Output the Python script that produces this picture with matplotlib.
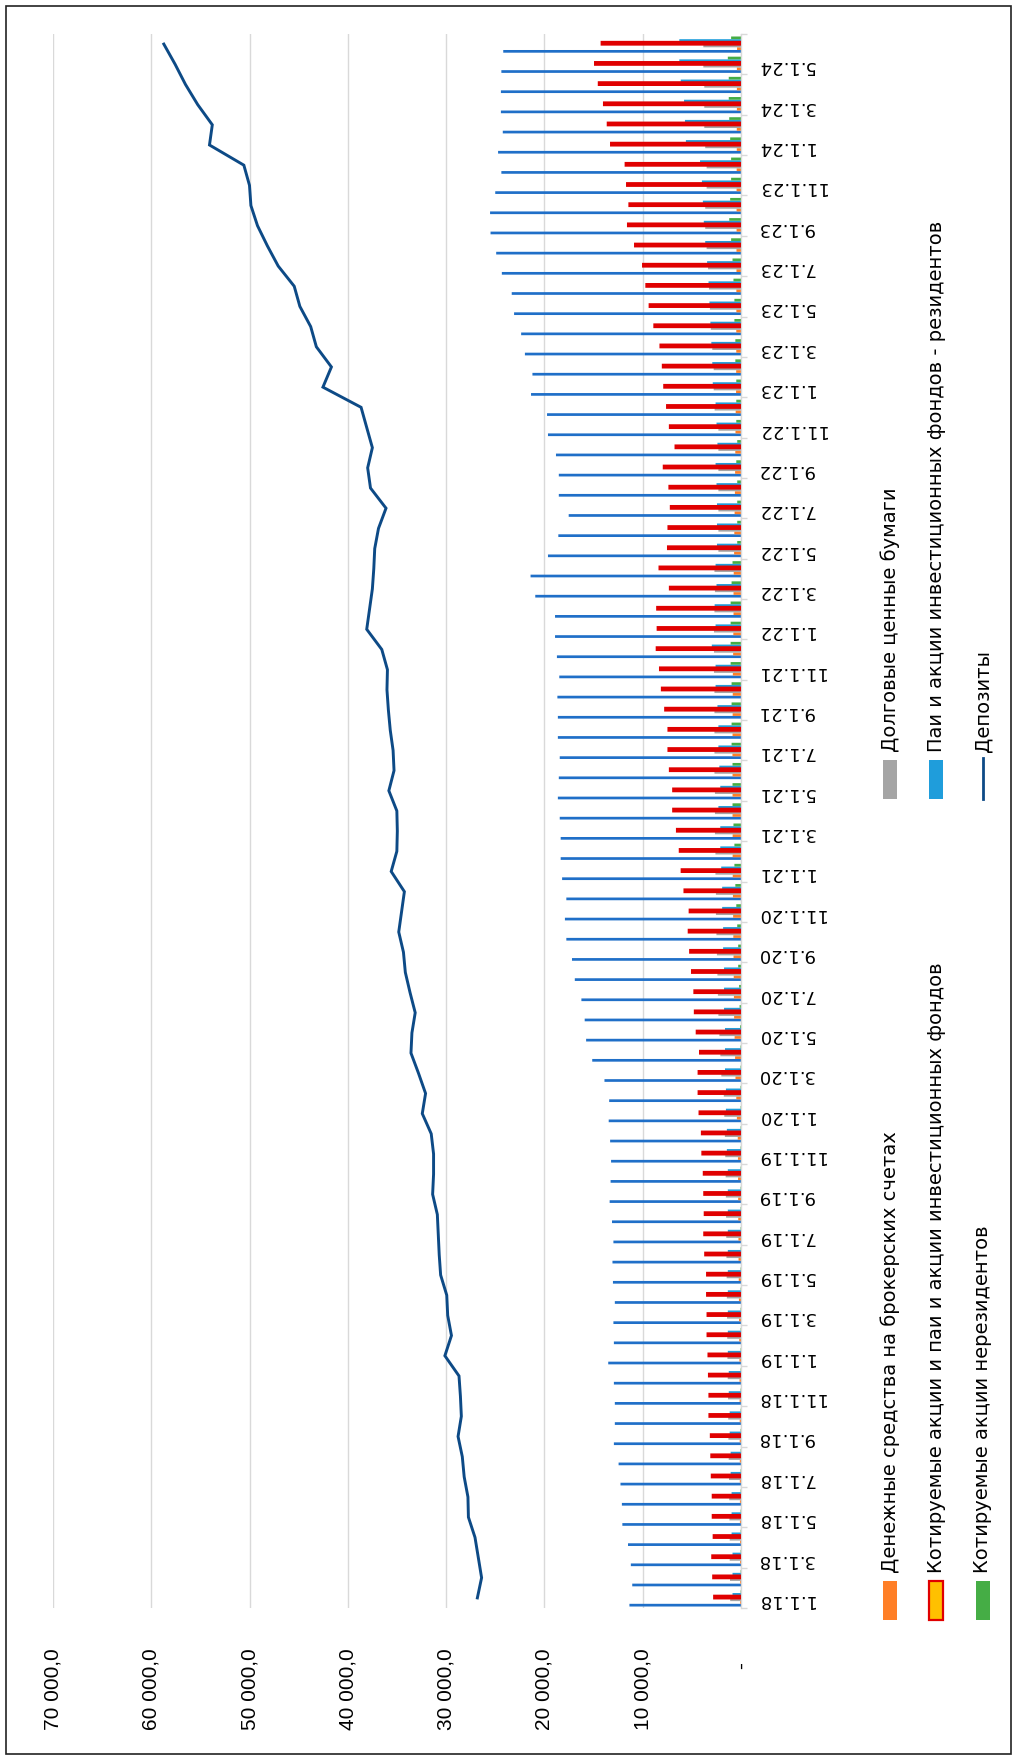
import matplotlib
matplotlib.use('Agg')
import matplotlib.pyplot as plt
import numpy as np
from matplotlib.patches import Rectangle
from matplotlib.lines import Line2D
from matplotlib.transforms import ScaledTranslation

# ---------------- data (monthly, Jan 2018 .. Jun 2024) ----------------
date_labels = ['1.1.18', '3.1.18', '5.1.18', '7.1.18', '9.1.18', '11.1.18',
               '1.1.19', '3.1.19', '5.1.19', '7.1.19', '9.1.19', '11.1.19',
               '1.1.20', '3.1.20', '5.1.20', '7.1.20', '9.1.20', '11.1.20',
               '1.1.21', '3.1.21', '5.1.21', '7.1.21', '9.1.21', '11.1.21',
               '1.1.22', '3.1.22', '5.1.22', '7.1.22', '9.1.22', '11.1.22',
               '1.1.23', '3.1.23', '5.1.23', '7.1.23', '9.1.23', '11.1.23',
               '1.1.24', '3.1.24', '5.1.24']

value_ticks = [0, 10000, 20000, 30000, 40000, 50000, 60000, 70000]
value_tick_labels = ['-', '10 000,0', '20 000,0', '30 000,0', '40 000,0',
                     '50 000,0', '60 000,0', '70 000,0']

# Денежные средства на брокерских счетах
cash = [90, 90, 100, 100, 110, 110, 120, 120, 130, 130, 140, 150,
        160, 180, 200, 210, 230, 250, 260, 280, 290, 300, 310, 330,
        420, 480, 560, 600, 650, 700, 720, 740, 760, 780, 800, 820,
        840, 850, 850, 860, 860, 860, 870, 860, 850, 840, 830, 800,
        780, 760, 760, 740, 700, 680, 650, 620, 600, 580, 560, 540,
        500, 490, 480, 480, 470, 470, 460, 460, 450, 450, 450, 440,
        430, 430, 420, 420, 420, 400]

# Котируемые акции и паи и акции инвестиционных фондов
quoted = [2730, 2826, 2922, 2778, 2874, 2874, 2970, 3018, 3066, 3209, 3209, 3257,
          3305, 3401, 3401, 3449, 3449, 3640, 3736, 3688, 3736, 3784, 3928, 3976,
          4215, 4311, 4311, 4167, 4503, 4694, 4742, 4982, 5173, 5317, 5221, 5748,
          6035, 6227, 6514, 6898, 6898, 7233, 7377, 7377, 7712, 8047, 8239, 8574,
          8478, 8526, 7233, 8287, 7425, 7377, 7137, 7281, 7856, 6658, 7233, 7520,
          7808, 7951, 8191, 8814, 9293, 9628, 9963, 10778, 11496, 11352, 11592, 11736,
          13220, 13556, 13939, 14466, 14849, 14178]

# Котируемые акции нерезидентов
nonres = [40, 40, 40, 40, 40, 40, 40, 40, 40, 40, 40, 40,
          40, 40, 40, 40, 40, 40, 40, 40, 40, 40, 40, 40,
          40, 50, 50, 50, 96, 144, 192, 287, 287, 383, 479, 575,
          671, 671, 766, 862, 862, 862, 958, 958, 958, 958, 1054, 1054,
          1054, 1054, 958, 862, 383, 383, 383, 383, 479, 383, 479, 479,
          479, 575, 575, 671, 671, 766, 862, 1006, 1198, 1102, 1006, 1006,
          1102, 1198, 1245, 1245, 1341, 1006]

# Долговые ценные бумаги
bonds = [1100, 1120, 1150, 1150, 1180, 1200, 1220, 1250, 1280, 1300, 1320, 1350,
         1380, 1400, 1420, 1440, 1460, 1480, 1500, 1520, 1540, 1560, 1600, 1640,
         1700, 1750, 2000, 2100, 2200, 2300, 2350, 2400, 2450, 2500, 2550, 2550,
         2600, 2600, 2650, 2650, 2650, 2700, 2700, 2700, 2700, 2700, 2750, 2750,
         2750, 2700, 2650, 2700, 2299, 2299, 2299, 2299, 2299, 2299, 2299, 2682,
         2778, 2778, 2922, 3066, 3161, 3257, 3353, 3497, 3640, 3640, 3497, 3497,
         3640, 3736, 3736, 3736, 3832, 3832]

# Паи и акции инвестиционных фондов - резидентов
funds = [862, 862, 862, 958, 958, 958, 1054, 1054, 1150, 1150, 1245, 1245,
         1341, 1341, 1341, 1341, 1341, 1341, 1341, 1341, 1341, 1341, 1437, 1437,
         1533, 1533, 1629, 1629, 1629, 1724, 1724, 1724, 1820, 1820, 1916, 1916,
         2012, 2108, 2108, 2299, 2108, 2203, 2299, 2299, 2395, 2587, 2587, 2970,
         2587, 2682, 2491, 2587, 2443, 2443, 2443, 2491, 2587, 2395, 2491, 2587,
         2874, 2922, 3018, 3114, 3209, 3305, 3449, 3640, 3784, 3880, 3976, 4167,
         5604, 5700, 5796, 6131, 6275, 6275]

# long thin blue series (no legend entry)
other = [11352, 11065, 11209, 11496, 12071, 12119, 12262, 12454, 12933, 12837, 12837, 12933,
         13508, 12933, 12981, 12837, 13029, 13077, 12981, 13125, 13364, 13268, 13220, 13316,
         13460, 13412, 13891, 15136, 15759, 15903, 16238, 16909, 17196, 17771, 17915, 17771,
         18202, 18346, 18346, 18442, 18633, 18537, 18442, 18633, 18633, 18681, 18489, 18729,
         18921, 18921, 20932, 21411, 19639, 18585, 17531, 18537, 18537, 18825, 19639, 19735,
         21363, 21220, 21986, 22369, 23088, 23327, 24333, 24908, 25483, 25531, 25004, 24381,
         24716, 24237, 24429, 24429, 24381, 24190]

# Депозиты
deposits = [26824, 26393, 26728, 27064, 27734, 27782, 28165, 28357, 28788, 28453, 28548, 28692,
            30129, 29459, 29842, 29938, 30560, 30704, 30800, 30896, 31375, 31279, 31279, 31518,
            32428, 32093, 32812, 33578, 33482, 33147, 33674, 34153, 34344, 34823, 34536, 34249,
            35590, 35015, 34967, 35015, 35829, 35302, 35398, 35686, 35877, 36021, 35973, 36548,
            38081, 37793, 37506, 37362, 37266, 36883, 36117, 37697, 37985, 37506, 38081, 38655,
            42535, 41673, 43206, 43781, 44882, 45457, 47086, 48187, 49193, 49864, 50008, 50582,
            54079, 53792, 55277, 56522, 57576, 58725]

legend_labels = ['Денежные средства на брокерских счетах',
                 'Котируемые акции и паи и акции инвестиционных фондов',
                 'Котируемые акции нерезидентов',
                 'Долговые ценные бумаги',
                 'Паи и акции инвестиционных фондов - резидентов',
                 'Депозиты']

# ---------------- styling ----------------
C_CASH = '#ff7f27'
C_QUOTED = '#e00000'
C_QUOTED_FILL = '#ffc000'
C_NONRES = '#45ad45'
C_BONDS = '#a5a5a5'
C_FUNDS = '#1f9ddb'
C_OTHER = '#1f6fc8'
C_DEP = '#0d4a86'
C_GRID = '#d9d9d9'

W, H = 1017, 1760
fig = plt.figure(figsize=(W / 100, H / 100), dpi=100)

def fx(x):
    return x / W

def fy(y):
    return 1 - y / H

ax_l, ax_r, ax_t, ax_b = 53, 741, 34, 1608
ax = fig.add_axes([fx(ax_l), fy(ax_b), fx(ax_r - ax_l), (ax_b - ax_t) / H])

n = len(deposits)
idx = np.arange(n)
slot = 0.1338
shift = -0.025

def off(k):
    return (2.5 - k) * slot + shift

bar_kw = dict(height=slot, snap=False, linewidth=0)
ax.barh(idx + off(5), other, color=C_OTHER, zorder=2, **bar_kw)
ax.barh(idx + off(4), cash, color=C_CASH, zorder=2, **bar_kw)
ax.barh(idx + off(3), bonds, color=C_BONDS, zorder=2, **bar_kw)
ax.barh(idx + off(1), funds, color=C_FUNDS, zorder=2, **bar_kw)
ax.barh(idx + off(0), nonres, color=C_NONRES, zorder=2, **bar_kw)
ax.barh(idx + off(2), quoted, height=slot, color=C_QUOTED, edgecolor=C_QUOTED,
        linewidth=1.5, snap=False, zorder=3)
ax.plot(deposits, idx, color=C_DEP, linewidth=2.1, zorder=4, solid_joinstyle='miter')

ax.set_xlim(70000, 0)
ax.set_ylim(-0.5, n - 0.5)

for s in ['top', 'left', 'bottom']:
    ax.spines[s].set_visible(False)
ax.spines['right'].set_color(C_GRID)
ax.spines['right'].set_linewidth(1.0)

ax.set_xticks(value_ticks)
ax.xaxis.grid(True, color=C_GRID, linewidth=1.0, zorder=0)
ax.set_axisbelow(True)
ax.set_xticklabels(value_tick_labels, rotation=90, fontsize=15,
                   fontfamily='Liberation Sans', color='#000000')
ax.tick_params(axis='x', length=0, pad=29)

ax.yaxis.tick_right()
ax.set_yticks(np.arange(0, n, 2)[:len(date_labels)])
ax.set_yticklabels(date_labels, rotation=180, fontsize=13,
                   fontfamily='DejaVu Sans', color='#000000')
ax.set_yticks(np.arange(-0.5, n, 2), minor=True)
ax.tick_params(axis='y', which='major', length=0, pad=11.5)
ax.tick_params(axis='y', which='minor', length=4, width=1.0, color=C_GRID,
               direction='out')

# shift the zero label slightly down like the reference
zl = ax.get_xticklabels()[0]
zl.set_transform(zl.get_transform() + ScaledTranslation(0, -14 / 100, fig.dpi_scale_trans))

# ---------------- legend (rotated, drawn manually) ----------------
leg_font = dict(family='DejaVu Sans', size=14, rotation=90,
                ha='center', va='bottom', color='#000000')
cols_x = [890, 936, 983]
group_y = [1573, 752]
colors_g1 = [C_CASH, C_QUOTED_FILL, C_NONRES]
colors_g2 = [C_BONDS, C_FUNDS, None]
for g, (ybase, cols) in enumerate(zip(group_y, [colors_g1, colors_g2])):
    for c in range(3):
        lab = legend_labels[g * 3 + c]
        x = cols_x[c]
        if cols[c] is not None:
            ec = C_QUOTED if cols[c] == C_QUOTED_FILL else cols[c]
            lw = 1.6 if cols[c] == C_QUOTED_FILL else 0
            fig.patches.append(Rectangle((fx(x - 7), fy(ybase + 47)), fx(14), 39 / H,
                                         transform=fig.transFigure, facecolor=cols[c],
                                         edgecolor=ec, linewidth=lw))
        else:
            fig.lines.append(Line2D([fx(x), fx(x)], [fy(ybase + 47), fy(ybase + 6)],
                                    transform=fig.transFigure, color=C_DEP, linewidth=2))
        fig.text(fx(x), fy(ybase), lab, **leg_font)

# outer frame
fig.patches.append(Rectangle((fx(6), fy(1754)), fx(1005), 1748 / H, transform=fig.transFigure,
                             fill=False, edgecolor='#222222', linewidth=1.2))

fig.savefig('out.png', dpi=100)
